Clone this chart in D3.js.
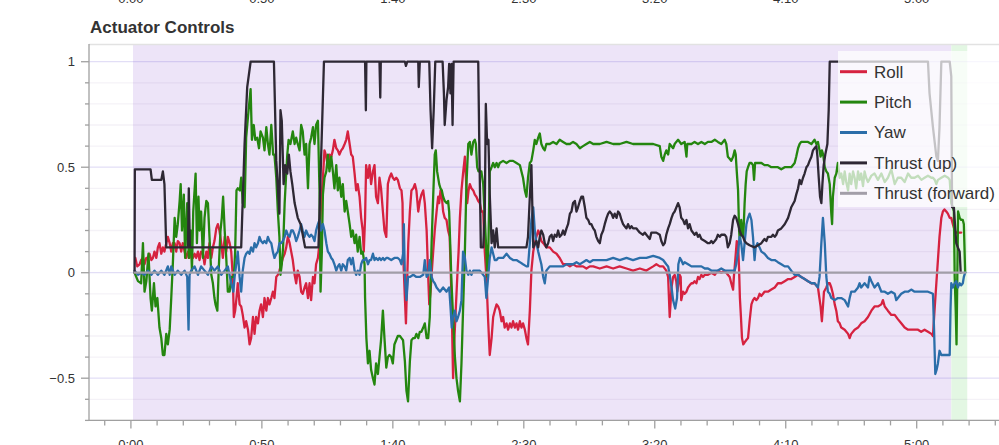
<!DOCTYPE html>
<html>
<head>
<meta charset="utf-8">
<script src="https://cdn.jsdelivr.net/npm/d3@7"></script>
<style>
  html, body { margin: 0; padding: 0; background: #fff; }
  svg { display: block; font-family: "Liberation Sans", Arial, Helvetica, sans-serif; }
</style>
</head>
<body>
<svg id="chart" width="999" height="445"></svg>
<script>
// ---------------- DATA ----------------
const title = "Actuator Controls";
const seriesNames = ["Roll", "Pitch", "Yaw", "Thrust (up)", "Thrust (forward)"];

// flight-mode background spans [start s, end s]
const modeSpans = [[0.8, 313.2], [313.2, 319.3]];

// x ticks (seconds)
const xMajorTicks = [0, 50, 100, 150, 200, 250, 300];
const yMajorTicks = [-0.5, 0, 0.5, 1];

// [time s, value]
const roll = [[1.7,0.07],[2.4,0.03],[3.3,0.04],[3.9,0.06],[4.6,0.07],[5.2,0.04],[5.9,0.07],[6.5,0.07],[7.1,0.09],[7.8,0.06],[8.4,0.07],[9.0,0.10],[9.7,0.07],[10.3,0.12],[10.9,0.14],[11.6,0.09],[12.2,0.12],[12.8,0.10],[13.5,0.14],[14.1,0.17],[14.8,0.14],[15.4,0.10],[16.0,0.14],[16.7,0.14],[17.3,0.10],[17.9,0.15],[18.6,0.14],[19.2,0.10],[19.8,0.14],[20.5,0.10],[21.1,0.07],[21.8,0.10],[22.4,0.07],[23.0,0.10],[23.7,0.07],[24.3,0.09],[24.9,0.07],[25.6,0.10],[26.2,0.06],[26.8,0.10],[27.5,0.09],[28.1,0.04],[28.8,0.10],[29.4,0.07],[30.0,0.14],[30.7,0.07],[31.3,0.12],[31.9,0.15],[32.6,0.21],[33.2,0.23],[33.8,0.20],[34.5,0.14],[35.1,0.07],[35.8,0.17],[36.4,0.10],[37.0,0.17],[37.7,0.14],[38.3,0.10],[38.9,-0.02],[39.3,-0.21],[39.8,-0.18],[40.3,-0.12],[40.8,-0.05],[41.5,-0.15],[42.1,-0.16],[42.7,-0.20],[43.4,-0.26],[44.0,-0.23],[44.7,-0.27],[45.3,-0.34],[45.9,-0.31],[46.6,-0.21],[47.2,-0.29],[47.8,-0.21],[48.5,-0.24],[49.1,-0.18],[49.7,-0.15],[50.4,-0.21],[51.0,-0.12],[51.7,-0.18],[52.3,-0.12],[52.9,-0.15],[53.6,-0.12],[54.2,-0.09],[54.8,-0.12],[55.5,-0.02],[56.1,-0.01],[56.7,0.01],[57.4,0.04],[58.0,0.07],[58.7,0.09],[59.3,0.12],[59.9,0.17],[60.6,0.14],[61.2,0.10],[61.8,0.06],[62.5,-0.01],[63.1,-0.05],[63.7,0.01],[64.4,-0.02],[65.0,-0.09],[65.6,-0.10],[66.3,-0.07],[66.9,-0.05],[67.6,-0.12],[68.2,-0.05],[68.8,-0.13],[69.5,-0.02],[70.1,-0.05],[70.7,0.04],[71.4,0.07],[72.0,0.14],[72.6,0.33],[73.3,0.45],[73.9,0.58],[74.6,0.55],[75.2,0.50],[75.8,0.56],[76.5,0.55],[77.1,0.58],[77.7,0.63],[78.4,0.59],[79.0,0.58],[79.6,0.56],[80.3,0.58],[80.9,0.59],[81.6,0.61],[82.2,0.63],[82.8,0.67],[83.5,0.61],[84.1,0.56],[84.7,0.55],[85.4,0.47],[86.0,0.39],[86.6,0.42],[87.3,0.36],[87.9,0.26],[88.5,0.20],[88.9,0.10],[89.4,0.26],[89.8,0.51],[90.5,0.45],[91.1,0.51],[91.7,0.42],[92.4,0.48],[93.0,0.51],[93.6,0.36],[94.3,0.33],[94.9,0.45],[95.5,0.40],[96.2,0.29],[96.8,0.20],[97.5,0.17],[98.1,0.42],[98.7,0.45],[99.4,0.47],[100.0,0.45],[100.6,0.44],[101.3,0.45],[101.9,0.44],[102.7,0.40],[103.3,0.39],[103.7,0.33],[103.9,0.10],[104.6,-0.12],[105.0,-0.24],[105.5,-0.02],[105.9,0.14],[106.5,0.29],[107.1,0.39],[107.8,0.40],[108.4,0.42],[109.0,0.39],[109.7,0.29],[110.3,0.34],[110.9,0.37],[111.6,0.39],[112.2,0.33],[112.9,0.20],[113.5,-0.02],[113.9,-0.15],[114.4,-0.09],[114.9,0.01],[115.4,0.10],[116.0,0.20],[116.7,0.29],[117.3,0.36],[117.7,0.33],[118.2,0.39],[118.7,0.36],[119.2,0.29],[119.8,0.26],[120.5,0.25],[121.1,0.20],[121.7,0.17],[122.4,-0.12],[123.0,-0.50],[123.4,-0.34],[124.0,-0.18],[124.6,-0.02],[125.1,0.10],[125.6,0.26],[126.2,0.39],[126.8,0.47],[127.5,0.55],[127.9,0.45],[128.4,0.33],[128.9,0.39],[129.4,0.42],[130.0,0.40],[130.7,0.39],[131.3,0.37],[131.9,0.36],[132.6,0.34],[133.2,0.33],[133.8,0.29],[134.5,0.29],[135.1,0.10],[135.7,-0.02],[136.4,-0.23],[137.0,-0.39],[137.7,-0.31],[138.3,-0.21],[138.9,-0.18],[139.6,-0.15],[140.2,-0.16],[140.8,-0.18],[141.5,-0.23],[142.1,-0.21],[142.7,-0.26],[143.4,-0.24],[144.0,-0.27],[144.7,-0.24],[145.3,-0.26],[145.9,-0.23],[146.6,-0.26],[147.2,-0.24],[147.8,-0.27],[148.5,-0.23],[149.1,-0.26],[149.7,-0.24],[150.4,-0.27],[151.0,-0.31],[151.6,-0.34],[152.3,-0.18],[152.9,0.01],[153.6,0.10],[154.2,0.14],[154.8,0.17],[155.5,0.20],[156.1,0.18],[156.7,0.15],[157.4,0.14],[158.6,0.12],[159.9,0.12],[161.2,0.10],[162.5,0.09],[163.7,0.07],[165.0,0.04],[166.3,0.04],[167.6,0.03],[168.8,0.04],[170.1,0.03],[171.4,0.03],[172.6,0.03],[173.9,0.02],[175.2,0.03],[176.5,0.03],[179.0,0.02],[181.6,0.03],[184.1,0.02],[186.6,0.03],[189.2,0.02],[191.7,0.01],[194.3,0.02],[196.8,0.01],[199.4,0.03],[200.6,0.04],[201.9,0.03],[203.2,0.03],[204.4,0.01],[205.1,-0.02],[205.7,-0.21],[206.4,-0.07],[207.0,-0.02],[207.6,-0.01],[208.2,-0.04],[208.6,-0.09],[209.1,-0.05],[209.5,-0.01],[209.9,-0.02],[210.1,-0.13],[210.8,-0.09],[211.4,-0.10],[212.1,-0.09],[212.7,-0.07],[213.3,-0.06],[214.0,-0.05],[214.6,-0.05],[215.2,-0.04],[215.9,-0.05],[216.5,-0.02],[217.1,-0.03],[217.8,-0.01],[218.4,-0.02],[219.1,-0.01],[220.3,-0.01],[221.6,0.00],[222.9,-0.01],[224.1,0.01],[225.4,0.00],[226.7,0.01],[227.9,-0.01],[228.6,-0.02],[229.2,-0.05],[229.9,-0.08],[230.2,-0.02],[230.8,0.07],[231.3,0.15],[231.8,0.14],[232.2,0.01],[232.5,-0.12],[232.9,-0.21],[233.3,-0.31],[233.8,-0.34],[234.3,-0.33],[234.9,-0.32],[235.6,-0.31],[236.2,-0.23],[236.9,-0.15],[237.5,-0.13],[238.1,-0.12],[238.8,-0.13],[239.4,-0.12],[240.0,-0.10],[240.7,-0.11],[241.9,-0.09],[243.2,-0.09],[244.5,-0.08],[245.8,-0.07],[247.0,-0.05],[248.3,-0.05],[249.6,-0.04],[250.9,-0.03],[252.1,-0.03],[253.4,-0.02],[254.7,-0.01],[255.9,-0.02],[257.2,-0.03],[258.5,-0.04],[259.8,-0.05],[261.0,-0.05],[262.3,-0.07],[263.3,-0.16],[263.8,-0.23],[264.2,-0.16],[264.6,-0.09],[265.5,-0.07],[266.1,-0.05],[266.8,-0.05],[267.4,-0.07],[268.0,-0.10],[268.7,-0.15],[269.3,-0.18],[269.9,-0.23],[270.6,-0.24],[271.2,-0.26],[272.5,-0.27],[273.8,-0.29],[274.4,-0.31],[275.0,-0.29],[276.3,-0.27],[277.6,-0.26],[278.8,-0.24],[280.1,-0.23],[281.4,-0.21],[282.7,-0.18],[283.9,-0.16],[285.2,-0.16],[286.5,-0.15],[287.1,-0.13],[287.8,-0.16],[289.0,-0.18],[290.3,-0.20],[291.6,-0.20],[292.8,-0.22],[294.1,-0.24],[295.4,-0.26],[296.7,-0.27],[297.9,-0.27],[299.2,-0.27],[300.5,-0.27],[301.7,-0.28],[303.0,-0.27],[304.3,-0.28],[305.6,-0.29],[306.2,-0.30],[306.8,-0.18],[307.5,-0.05],[308.1,0.06],[308.7,0.17],[309.4,0.26],[310.0,0.29],[310.6,0.30],[311.3,0.29],[311.9,0.28],[312.6,0.26],[313.2,0.26],[313.8,0.23],[314.5,0.20],[315.1,0.19],[317.0,0.19]];

const pitch = [[1.4,0],[2.7,-0.04],[3.9,-0.05],[4.6,0.14],[5.2,-0.09],[5.9,-0.04],[6.7,0.09],[7.5,-0.12],[8.0,-0.18],[8.8,-0.05],[9.4,-0.16],[10.1,-0.12],[10.9,-0.26],[11.6,-0.31],[12.2,-0.39],[12.8,-0.39],[13.5,-0.29],[14.1,-0.34],[14.8,-0.27],[15.4,-0.12],[16.0,0.04],[16.7,0.26],[17.3,0.17],[17.9,0.23],[18.6,0.34],[19.0,0.42],[19.5,0.20],[20.2,0.37],[20.7,0.07],[21.5,0.33],[22.1,0.07],[22.8,0.20],[23.3,0.01],[23.8,0.29],[24.7,0.47],[25.2,0.14],[25.8,0.36],[26.2,0.20],[26.8,0.29],[27.5,0.07],[28.1,0.26],[28.8,0.34],[29.4,0.33],[30.0,0.17],[30.7,-0.01],[31.3,-0.05],[31.9,-0.12],[32.3,-0.15],[33.0,-0.18],[33.5,0.01],[34.2,0.20],[34.7,0.26],[35.2,0.36],[35.8,0.20],[36.4,0.07],[37.0,-0.09],[37.7,-0.09],[38.3,-0.02],[39.3,-0.02],[39.8,0.10],[40.3,0.39],[40.8,0.40],[41.6,0.39],[42.1,0.45],[42.7,0.33],[43.4,0.31],[44.0,0.64],[44.7,0.74],[45.7,0.87],[46.2,0.63],[46.9,0.70],[47.5,0.63],[48.2,0.64],[48.9,0.59],[49.5,0.67],[50.4,0.64],[51.0,0.58],[51.7,0.69],[52.3,0.61],[52.9,0.56],[53.6,0.70],[54.3,0.56],[54.8,0.56],[55.5,0.45],[56.1,0.29],[56.7,0.17],[57.1,-0.01],[57.6,0.04],[58.1,0.12],[58.7,0.33],[59.2,0.45],[59.7,0.56],[60.2,0.63],[60.9,0.61],[61.8,0.67],[62.5,0.61],[63.1,0.64],[63.7,0.61],[64.4,0.58],[65.0,0.70],[65.6,0.67],[66.3,0.56],[66.9,0.61],[67.6,0.40],[68.2,0.61],[68.8,0.64],[69.5,0.69],[70.1,0.61],[70.7,0.70],[71.4,0.72],[72.0,0.39],[72.4,-0.09],[72.9,0.10],[73.3,0.37],[73.9,0.45],[74.6,0.48],[75.2,0.56],[75.8,0.48],[76.5,0.55],[77.1,0.48],[77.7,0.40],[78.4,0.51],[79.0,0.39],[79.6,0.45],[80.3,0.36],[80.9,0.42],[81.6,0.29],[82.2,0.34],[82.8,0.29],[83.5,0.23],[84.1,0.17],[84.7,0.20],[85.4,0.14],[86.0,0.18],[86.6,0.10],[87.3,0.17],[87.9,0.09],[88.5,0.10],[89.2,0.04],[89.4,-0.12],[89.9,-0.31],[90.5,-0.43],[91.1,-0.37],[91.7,-0.46],[92.4,-0.50],[93.0,-0.53],[93.6,-0.43],[94.3,-0.48],[94.9,-0.40],[95.5,-0.32],[96.2,-0.18],[96.8,-0.31],[97.5,-0.45],[98.1,-0.40],[98.7,-0.39],[99.4,-0.40],[100.0,-0.43],[100.6,-0.34],[101.9,-0.30],[102.7,-0.30],[103.3,-0.31],[103.9,-0.32],[104.6,-0.42],[105.2,-0.56],[105.8,-0.61],[106.5,-0.42],[107.1,-0.32],[107.8,-0.31],[108.4,-0.31],[109.0,-0.29],[109.7,-0.31],[110.3,-0.28],[110.9,-0.28],[111.6,-0.26],[112.2,-0.24],[112.9,-0.31],[113.5,-0.31],[114.1,-0.21],[114.8,0.14],[115.4,0.36],[116.0,0.56],[116.4,0.58],[116.9,0.48],[117.7,0.42],[118.2,0.40],[118.7,0.39],[119.2,0.36],[119.8,0.34],[120.5,0.33],[121.1,0.34],[121.5,0.29],[122.0,0.10],[122.4,-0.05],[123.0,-0.21],[123.7,-0.40],[124.3,-0.50],[124.9,-0.56],[125.6,-0.61],[126.2,-0.43],[126.8,-0.18],[127.5,0.10],[128.1,0.42],[128.8,0.61],[129.4,0.62],[130.0,0.56],[130.7,0.62],[131.3,0.63],[131.7,0.61],[132.2,0.50],[132.7,0.48],[133.2,0.48],[133.8,0.48],[134.5,0.42],[135.1,0.26],[135.7,0.10],[136.1,-0.02],[136.5,0.14],[137.0,0.48],[137.7,0.50],[138.3,0.52],[138.9,0.50],[139.6,0.52],[140.2,0.50],[140.8,0.52],[142.1,0.53],[143.4,0.52],[144.6,0.53],[145.9,0.53],[147.2,0.52],[148.5,0.51],[149.1,0.48],[149.7,0.45],[150.4,0.39],[151.0,0.36],[151.6,0.45],[152.3,0.52],[152.9,0.53],[153.6,0.58],[154.2,0.63],[154.8,0.61],[155.5,0.64],[156.1,0.66],[156.7,0.61],[157.4,0.59],[158.0,0.58],[158.6,0.61],[159.9,0.61],[161.2,0.62],[162.5,0.61],[163.7,0.63],[165.0,0.62],[166.3,0.61],[167.6,0.61],[168.8,0.62],[170.1,0.61],[171.4,0.59],[172.6,0.60],[173.9,0.61],[175.2,0.62],[176.5,0.61],[179.0,0.61],[181.6,0.62],[184.1,0.61],[186.6,0.61],[189.2,0.62],[191.7,0.61],[194.3,0.61],[196.8,0.61],[199.4,0.61],[201.9,0.60],[202.5,0.55],[203.2,0.53],[203.8,0.56],[204.4,0.58],[205.1,0.56],[205.7,0.61],[207.0,0.59],[207.6,0.61],[208.2,0.62],[208.9,0.63],[210.1,0.61],[211.4,0.62],[212.1,0.55],[212.4,0.61],[214.0,0.61],[215.2,0.62],[216.5,0.61],[217.8,0.62],[219.1,0.61],[220.3,0.62],[221.6,0.62],[222.9,0.63],[224.1,0.62],[225.4,0.61],[226.7,0.63],[227.3,0.61],[227.9,0.55],[228.6,0.54],[229.2,0.53],[229.9,0.55],[230.5,0.58],[230.9,0.56],[231.3,0.48],[231.8,0.39],[232.2,0.20],[232.5,0.14],[233.0,0.25],[233.4,0.20],[233.8,0.17],[234.3,0.33],[234.7,0.42],[235.1,0.48],[235.6,0.50],[236.2,0.52],[236.9,0.52],[237.5,0.51],[237.9,0.44],[238.3,0.52],[239.4,0.52],[240.7,0.52],[241.9,0.51],[243.2,0.51],[244.5,0.50],[245.8,0.50],[247.0,0.50],[248.3,0.49],[249.6,0.50],[250.9,0.50],[252.1,0.50],[253.4,0.52],[254.0,0.55],[254.7,0.59],[255.3,0.61],[255.9,0.62],[257.2,0.62],[258.5,0.62],[259.8,0.61],[261.0,0.63],[261.7,0.61],[262.3,0.62],[262.9,0.58],[263.3,0.55],[263.8,0.58],[264.3,0.56],[264.9,0.50],[265.5,0.48],[266.1,0.47],[266.8,0.42],[267.4,0.28],[267.7,0.23],[268.0,0.36],[268.7,0.45],[269.3,0.47],[269.9,0.52],[270.6,0.45],[271.2,0.47],[271.9,0.42],[272.5,0.48],[273.1,0.43],[273.8,0.39],[274.4,0.47],[275.0,0.42],[275.7,0.48],[276.3,0.45],[276.9,0.40],[277.6,0.48],[278.2,0.44],[278.8,0.47],[279.5,0.41],[280.1,0.48],[280.7,0.45],[281.4,0.43],[282.7,0.46],[283.9,0.47],[285.2,0.44],[286.5,0.47],[287.8,0.43],[289.0,0.45],[290.3,0.49],[291.6,0.42],[292.8,0.45],[294.1,0.45],[295.4,0.43],[296.7,0.47],[297.9,0.45],[299.2,0.45],[300.5,0.46],[301.8,0.44],[303.0,0.45],[304.3,0.46],[305.6,0.45],[306.2,0.45],[306.9,0.44],[307.5,0.42],[308.1,0.44],[309.4,0.45],[310.7,0.46],[312.0,0.45],[312.6,0.44],[313.2,0.33],[313.8,0.31],[314.2,0.29],[314.5,-0.02],[314.9,-0.18],[315.2,-0.34],[315.5,-0.02],[315.8,0.29],[316.4,0.26],[317.0,0.25],[317.6,0.25],[318.0,0.23],[318.5,0]];

const yaw = [[1.4,0.01],[2.7,-0.01],[3.9,0.00],[5.2,-0.01],[6.5,0.01],[7.8,-0.01],[9.0,0.01],[10.3,-0.01],[11.6,0.01],[12.8,-0.01],[14.1,0.03],[14.8,-0.01],[15.4,0.03],[16.7,-0.01],[17.9,0.01],[19.2,-0.01],[20.5,0.01],[21.5,-0.02],[22.0,-0.27],[22.4,-0.01],[23.0,0.01],[24.3,0.03],[25.6,-0.01],[26.8,0.03],[28.1,0.01],[29.4,-0.01],[30.7,0.03],[31.9,0.01],[33.2,0.03],[34.5,-0.01],[35.8,0.01],[37.0,0.03],[38.3,-0.05],[39.1,-0.09],[39.6,-0.02],[40.2,0.04],[40.8,0.10],[41.5,-0.02],[42.1,-0.09],[42.7,0.01],[43.4,0.07],[44.0,0.09],[44.7,0.10],[45.3,0.09],[45.9,0.12],[46.6,0.10],[47.2,0.14],[47.8,0.12],[48.5,0.14],[49.1,0.17],[49.7,0.15],[50.4,0.14],[51.0,0.15],[51.7,0.14],[52.3,0.17],[52.9,0.15],[53.6,0.14],[54.2,0.10],[54.8,0.07],[55.5,0.09],[56.1,0.10],[56.7,0.14],[57.4,0.14],[58.0,0.15],[58.7,0.17],[59.3,0.20],[59.9,0.18],[60.6,0.17],[61.2,0.20],[61.8,0.20],[62.5,0.18],[63.1,0.15],[63.7,0.17],[64.4,0.20],[65.0,0.23],[65.6,0.20],[66.3,0.17],[66.9,0.20],[67.6,0.18],[68.2,0.17],[68.8,0.18],[69.5,0.17],[70.1,0.15],[70.7,0.20],[71.4,0.23],[72.0,0.25],[72.6,0.20],[73.3,0.23],[73.9,0.20],[74.6,0.14],[75.2,0.10],[75.8,0.09],[76.5,0.07],[77.1,0.06],[77.7,0.04],[78.4,0.01],[79.0,0.03],[79.6,0.04],[80.3,0.01],[80.9,0.04],[81.6,0.03],[82.2,0.01],[82.8,0.06],[83.5,0.07],[84.1,0.04],[84.7,0.07],[85.4,0.01],[86.0,-0.01],[86.6,0.01],[87.3,-0.01],[87.9,0.04],[88.5,0.06],[89.2,0.06],[89.8,0.07],[90.5,0.04],[91.1,0.06],[91.7,0.06],[92.4,0.09],[93.0,0.06],[93.6,0.07],[94.3,0.06],[94.9,0.07],[95.5,0.06],[96.2,0.07],[96.8,0.06],[97.5,0.07],[98.1,0.07],[99.4,0.06],[100.6,0.07],[101.9,0.07],[102.7,0.06],[103.3,0.04],[103.9,0.09],[104.2,0.23],[104.6,-0.02],[105.2,-0.13],[105.8,-0.02],[106.5,-0.02],[107.8,-0.01],[109.0,-0.02],[110.3,-0.02],[111.6,-0.01],[112.2,0.06],[112.9,-0.02],[113.5,-0.01],[114.1,0.06],[114.8,-0.02],[115.4,-0.04],[116.0,-0.05],[116.7,-0.07],[118.0,-0.09],[119.2,-0.07],[120.5,-0.09],[121.5,-0.07],[122.0,-0.16],[122.5,-0.26],[123.0,-0.21],[123.7,-0.18],[124.3,-0.23],[124.9,-0.21],[125.6,-0.18],[126.2,-0.13],[126.8,0.10],[127.5,0.07],[128.1,0.01],[128.8,-0.01],[129.4,0.01],[130.0,-0.01],[130.7,0.01],[131.9,0.01],[133.2,0.01],[134.5,-0.01],[135.1,-0.02],[135.7,-0.12],[136.4,-0.02],[137.0,0.07],[137.7,0.12],[138.3,0.09],[138.9,0.06],[139.6,0.06],[140.2,0.07],[140.8,0.07],[142.1,0.07],[143.4,0.09],[144.7,0.07],[145.9,0.06],[147.2,0.06],[148.5,0.05],[149.7,0.04],[151.0,0.03],[151.6,0.03],[152.3,0.14],[152.9,0.25],[153.6,0.31],[154.2,0.20],[154.8,0.14],[155.5,0.10],[156.1,0.07],[156.7,0.04],[157.4,-0.02],[158.0,-0.05],[158.6,0.01],[159.9,0.03],[161.2,0.03],[162.5,0.03],[163.7,0.03],[165.0,0.03],[166.3,0.04],[168.8,0.04],[170.1,0.05],[171.4,0.04],[172.6,0.05],[173.9,0.06],[175.2,0.05],[176.5,0.06],[179.0,0.06],[181.6,0.06],[184.1,0.07],[186.6,0.06],[189.2,0.07],[191.7,0.06],[194.3,0.07],[196.8,0.07],[199.4,0.08],[201.9,0.07],[203.2,0.06],[204.4,0.04],[205.1,0.03],[205.7,-0.01],[206.4,-0.07],[207.0,-0.13],[207.8,-0.17],[208.5,-0.12],[209.0,0.04],[209.6,0.07],[210.1,0.06],[210.8,0.04],[211.4,0.05],[212.7,0.04],[214.0,0.03],[215.2,0.03],[216.5,0.03],[217.8,0.03],[219.1,0.02],[220.3,0.02],[221.6,0.01],[224.1,0.01],[225.4,0.02],[226.7,0.01],[230.5,0.01],[231.1,0.04],[231.8,0.10],[232.4,0.17],[233.0,0.14],[233.7,0.06],[234.3,0.14],[235.0,0.23],[235.6,0.26],[236.2,0.28],[236.9,0.25],[237.5,0.17],[238.1,0.06],[238.5,0.12],[239.2,0.14],[240.0,0.12],[240.7,0.10],[241.9,0.09],[243.2,0.07],[244.5,0.06],[245.8,0.06],[247.0,0.05],[248.3,0.04],[249.6,0.03],[250.9,0.03],[252.1,0.01],[253.4,-0.01],[254.7,-0.01],[255.9,-0.02],[257.2,-0.03],[258.5,-0.04],[259.8,-0.05],[261.0,-0.05],[262.3,-0.07],[262.9,-0.02],[263.6,0.14],[264.2,0.26],[264.9,0.14],[265.5,-0.02],[266.1,-0.09],[266.8,-0.10],[267.4,-0.12],[268.7,-0.13],[269.9,-0.12],[271.2,-0.12],[272.5,-0.13],[273.8,-0.16],[274.4,-0.12],[275.0,-0.09],[276.3,-0.09],[277.6,-0.07],[278.2,-0.05],[278.8,-0.07],[280.1,-0.05],[281.4,-0.07],[282.0,-0.02],[282.7,-0.04],[283.9,-0.07],[285.2,-0.05],[286.5,-0.09],[287.8,-0.09],[289.0,-0.10],[290.3,-0.09],[291.6,-0.10],[292.2,-0.13],[292.8,-0.12],[294.1,-0.10],[295.4,-0.09],[296.7,-0.09],[297.9,-0.08],[299.2,-0.09],[301.7,-0.09],[304.3,-0.09],[306.2,-0.10],[306.6,-0.26],[307.1,-0.48],[307.6,-0.46],[308.1,-0.43],[308.7,-0.37],[309.4,-0.39],[310.7,-0.39],[311.9,-0.39],[312.6,-0.39],[312.9,-0.18],[313.2,-0.05],[313.8,-0.07],[314.5,-0.05],[315.1,-0.04],[315.7,-0.07],[316.4,-0.05],[317.0,-0.06],[317.6,-0.05],[318.0,-0.02],[318.5,0]];

const thrustUp = [[1.4,0],[1.5,0.49],[7.5,0.49],[8.0,0.44],[11.6,0.44],[12.2,0.48],[12.8,0.42],[13.5,0.12],[21.8,0.12],[22.1,0.40],[22.5,0.12],[42.1,0.12],[43.4,0.61],[44.4,0.88],[45.7,1.0],[54.6,1.0],[55.5,0.53],[56.7,0.28],[57.1,0.77],[57.6,0.72],[58.3,0.42],[58.9,0.51],[59.7,0.47],[60.3,0.56],[60.9,0.48],[61.6,0.42],[62.5,0.33],[63.7,0.26],[64.8,0.23],[65.6,0.18],[66.5,0.12],[71.6,0.12],[73.7,1.0],[89.4,1.0],[89.7,0.77],[89.9,1.0],[94.9,1.0],[95.2,0.83],[95.4,1.0],[104.6,1.0],[105.0,0.98],[105.5,1.0],[109.7,1.0],[109.9,0.88],[110.3,1.0],[113.9,1.0],[114.4,0.77],[115.0,0.59],[115.6,0.77],[116.2,1.0],[119.0,1.0],[119.5,0.85],[119.8,0.70],[120.5,0.82],[121.1,0.88],[121.5,0.99],[122.0,0.85],[122.4,0.99],[122.8,0.70],[123.2,1.0],[132.6,1.0],[133.0,0.61],[133.6,0.12],[134.5,0.12],[135.1,0.29],[135.5,0.80],[136.0,0.61],[136.5,0.63],[137.0,0.37],[137.7,0.14],[138.3,0.20],[138.9,0.12],[139.6,0.21],[140.2,0.12],[151.0,0.12],[151.6,0.17],[152.3,0.36],[152.9,0.51],[153.6,0.12],[154.8,0.15],[155.5,0.12],[156.1,0.17],[156.7,0.20],[157.4,0.18],[158.0,0.14],[158.6,0.12],[159.3,0.14],[159.9,0.17],[160.6,0.18],[161.2,0.15],[161.8,0.18],[162.5,0.17],[163.1,0.20],[163.7,0.17],[164.4,0.18],[165.0,0.20],[165.6,0.18],[166.3,0.21],[166.9,0.23],[167.6,0.28],[168.2,0.29],[168.8,0.33],[169.5,0.34],[170.1,0.29],[170.7,0.31],[171.4,0.34],[172.0,0.36],[172.6,0.36],[173.3,0.31],[173.9,0.26],[174.6,0.25],[175.2,0.23],[175.8,0.23],[176.5,0.21],[177.1,0.20],[177.7,0.17],[178.4,0.15],[179.0,0.14],[179.6,0.18],[180.3,0.20],[180.9,0.23],[181.6,0.26],[182.2,0.28],[182.8,0.29],[183.5,0.28],[184.1,0.26],[184.7,0.28],[185.4,0.26],[186.0,0.29],[186.6,0.28],[187.3,0.25],[187.9,0.23],[188.5,0.22],[189.2,0.21],[189.8,0.23],[190.5,0.21],[191.1,0.22],[191.7,0.21],[193.0,0.21],[193.6,0.20],[194.3,0.19],[195.5,0.18],[196.2,0.19],[196.8,0.18],[198.1,0.16],[198.7,0.19],[200.6,0.19],[201.9,0.18],[202.5,0.15],[203.2,0.13],[203.8,0.14],[204.4,0.18],[205.1,0.21],[205.7,0.23],[206.4,0.26],[207.0,0.28],[207.6,0.29],[208.9,0.33],[209.5,0.31],[210.1,0.26],[210.8,0.25],[211.4,0.23],[212.1,0.25],[212.7,0.21],[213.3,0.23],[214.0,0.20],[215.2,0.18],[215.9,0.19],[216.5,0.17],[217.1,0.18],[217.8,0.16],[219.1,0.15],[220.3,0.14],[221.0,0.14],[221.6,0.15],[222.2,0.14],[222.9,0.15],[223.5,0.16],[224.1,0.18],[224.8,0.17],[225.4,0.18],[226.7,0.18],[227.3,0.17],[227.9,0.12],[228.6,0.14],[229.2,0.18],[229.9,0.25],[230.5,0.27],[231.1,0.26],[231.8,0.23],[232.4,0.20],[233.0,0.18],[233.7,0.17],[234.3,0.15],[235.0,0.14],[236.2,0.13],[238.1,0.12],[239.4,0.13],[240.7,0.14],[241.3,0.15],[241.9,0.16],[242.6,0.15],[243.2,0.17],[244.5,0.17],[245.1,0.18],[245.8,0.17],[246.4,0.18],[247.0,0.20],[248.3,0.21],[249.6,0.23],[250.9,0.26],[252.1,0.31],[253.4,0.34],[254.0,0.37],[254.7,0.40],[255.3,0.44],[255.9,0.42],[256.6,0.45],[257.2,0.47],[257.9,0.50],[258.5,0.51],[259.1,0.53],[259.8,0.55],[260.4,0.58],[261.0,0.59],[261.7,0.60],[262.1,0.55],[262.6,0.45],[263.1,0.36],[263.6,0.33],[264.0,0.42],[264.5,0.51],[265.1,0.56],[265.9,0.61],[266.4,0.77],[266.8,1.0],[304.3,1.0],[304.9,0.85],[306.2,0.69],[307.5,0.55],[308.1,0.53],[308.7,0.69],[309.4,1.0],[312.6,1.0],[313.2,0.93],[313.5,0.31],[314.2,0.31],[314.5,0.25],[315.1,0.14],[315.7,0.12],[316.4,0.10],[316.8,0]];

const thrustForward = [[1.4,0],[318.5,0]];

const allSeries = [roll, pitch, yaw, thrustUp, thrustForward];

// ---------------- STYLES ----------------
const seriesColors = ["#d62240", "#24860f", "#2b6ea9", "#2e2834", "#a29ea8"];
const modeColors = ["#ede4f8", "#e3f7e3"];

// ---------------- LAYOUT ----------------
const svg = d3.select("#chart");
const W = 999, H = 445;
const plot = { left: 89, right: 1011, top: 44, bottom: 420.4 };

const x = d3.scaleLinear().domain([-16, 336]).range([plot.left, plot.right]);
const y = d3.scaleLinear().domain([-0.7, 1.084]).range([plot.bottom, plot.top]);

const fmtTime = t => `${Math.floor(t / 60)}:${String(t % 60).padStart(2, "0")}`;

svg.append("rect").attr("width", W).attr("height", H).attr("fill", "#fff");

// title
svg.append("text")
  .attr("x", 90).attr("y", 33.3)
  .attr("font-size", 17).attr("font-weight", "bold").attr("fill", "#333")
  .text(title);

// remnants of previous chart's x labels at very top
svg.append("g").selectAll("text").data(xMajorTicks).join("text")
  .attr("x", d => x(d)).attr("y", 2.5)
  .attr("text-anchor", "middle").attr("font-size", 13).attr("fill", "#333")
  .text(fmtTime);

// flight-mode backgrounds
svg.append("g").selectAll("rect").data(modeSpans).join("rect")
  .attr("x", d => x(d[0])).attr("width", d => x(d[1]) - x(d[0]))
  .attr("y", plot.top).attr("height", plot.bottom - plot.top)
  .attr("fill", (d, i) => modeColors[i]);

// top frame line
svg.append("line")
  .attr("x1", plot.left).attr("x2", W).attr("y1", plot.top + 0.5).attr("y2", plot.top + 0.5)
  .attr("stroke", "#e2e2e2").attr("stroke-width", 1.5);

// grid lines (every 0.1)
const yMinor = d3.range(-7, 11).map(i => i / 10);
svg.append("g").selectAll("line").data(yMinor).join("line")
  .attr("x1", plot.left).attr("x2", W)
  .attr("y1", d => y(d)).attr("y2", d => y(d))
  .attr("stroke", d => (Math.abs(Math.round(d * 10)) % 5 === 0) ? "rgba(110,90,210,0.2)" : "rgba(60,40,120,0.06)")
  .attr("stroke-width", 1.3);

// y axis
const yAxis = svg.append("g").attr("transform", `translate(${plot.left},0)`);
yAxis.append("line").attr("x1", 0).attr("x2", 0).attr("y1", plot.top).attr("y2", plot.bottom)
  .attr("stroke", "#a0a0a0").attr("stroke-width", 1.3);
yAxis.selectAll("line.tk").data(yMinor).join("line").attr("class", "tk")
  .attr("x1", d => yMajorTicks.some(m => Math.abs(m - d) < 1e-9) ? -8 : -4).attr("x2", 0)
  .attr("y1", d => y(d)).attr("y2", d => y(d))
  .attr("stroke", "#a0a0a0").attr("stroke-width", 1.3);
const yFmt = d3.format("~g");
yAxis.selectAll("text").data(yMajorTicks).join("text")
  .attr("x", -14).attr("y", d => y(d)).attr("dy", "0.35em")
  .attr("text-anchor", "end").attr("font-size", 13).attr("fill", "#333")
  .text(d => yFmt(d));

// x axis
const xMinor = d3.range(-10, 340, 10);
const xAxis = svg.append("g").attr("transform", `translate(0,${plot.bottom})`);
xAxis.append("line").attr("x1", plot.left).attr("x2", W).attr("y1", 0).attr("y2", 0)
  .attr("stroke", "#a0a0a0").attr("stroke-width", 1.3);
xAxis.selectAll("line.tk").data(xMinor).join("line").attr("class", "tk")
  .attr("x1", d => x(d)).attr("x2", d => x(d))
  .attr("y1", 0).attr("y2", d => d % 50 === 0 ? 8 : 5)
  .attr("stroke", "#a0a0a0").attr("stroke-width", 1.3);
xAxis.selectAll("text").data(xMajorTicks).join("text")
  .attr("x", d => x(d)).attr("y", 28.6)
  .attr("text-anchor", "middle").attr("font-size", 13).attr("fill", "#333")
  .text(fmtTime);

// series lines
const line = d3.line().x(d => x(d[0])).y(d => y(d[1]));
svg.append("g").selectAll("path").data(allSeries).join("path")
  .attr("d", line)
  .attr("fill", "none")
  .attr("stroke", (d, i) => seriesColors[i])
  .attr("stroke-width", 2.3)
  .attr("stroke-linejoin", "round")
  .attr("stroke-linecap", "round");

// legend
const legend = svg.append("g");
legend.append("rect")
  .attr("x", 838).attr("y", 51).attr("width", 200).attr("height", 156)
  .attr("fill", "#fff").attr("fill-opacity", 0.72);
const legRow = legend.selectAll("g.row").data(seriesNames).join("g").attr("class", "row")
  .attr("transform", (d, i) => `translate(840,${71.7 + i * 30.4})`);
legRow.append("line").attr("x1", 0).attr("x2", 27).attr("y1", 0).attr("y2", 0)
  .attr("stroke", (d, i) => seriesColors[i]).attr("stroke-width", 3);
legRow.append("text").attr("x", 34).attr("y", 5.8)
  .attr("font-size", 17).attr("fill", "#333").text(d => d);
</script>
</body>
</html>
